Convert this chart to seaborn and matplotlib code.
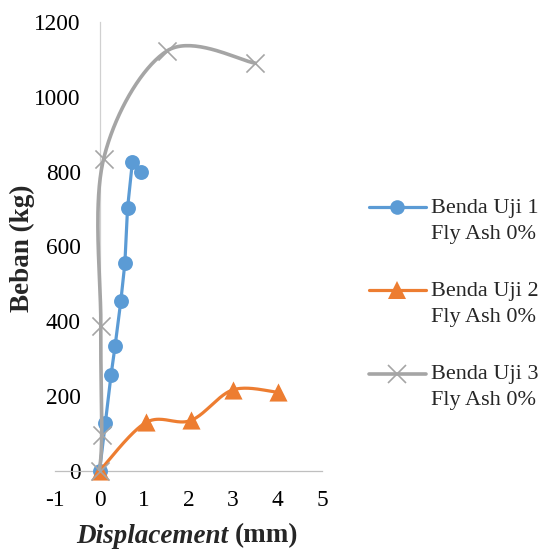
import numpy as np
import pandas as pd
import matplotlib
matplotlib.use("Agg")
import matplotlib.pyplot as plt
import matplotlib.transforms as mtransforms
from matplotlib.lines import Line2D
from matplotlib.legend_handler import HandlerLine2D
from matplotlib.offsetbox import TextArea, HPacker, AnchoredOffsetbox
import seaborn as sns

# ---- data ----
labels = ["Benda Uji 1\nFly Ash 0%", "Benda Uji 2\nFly Ash 0%", "Benda Uji 3\nFly Ash 0%"]
x1 = [0, 0.13, 0.26, 0.35, 0.48, 0.57, 0.63, 0.74, 0.93]
y1 = [0, 127, 257, 334, 455, 555, 702, 827, 800]
x2 = [0, 1.05, 2.05, 3.0, 4.02]
y2 = [0, 130, 135, 217, 210]
x3 = [0, 0.05, 0.03, 0.09, 1.52, 3.5]
y3 = [0, 97, 388, 833, 1123, 1090]
xticks = [-1, 0, 1, 2, 3, 4, 5]
yticks = [0, 200, 400, 600, 800, 1000, 1200]

colors = ["#5B9BD5", "#ED7D31", "#A5A5A5"]
FS = 16.8
FL = 16.0
FT = 19.5

sns.set_theme(style="white")
plt.rcParams["font.family"] = ["Liberation Serif", "DejaVu Serif"]
plt.rcParams["font.size"] = FS


def smooth(x, y, n=40):
    P = np.column_stack([x, y]).astype(float)
    Pp = np.vstack([P[0], P, P[-1]])
    out = []
    t = np.linspace(0, 1, n)[:, None]
    for i in range(len(P) - 1):
        p0, p1, p2, p3 = Pp[i], Pp[i + 1], Pp[i + 2], Pp[i + 3]
        c1 = p1 + (p2 - p0) / 6
        c2 = p2 - (p3 - p1) / 6
        seg = (1 - t) ** 3 * p1 + 3 * (1 - t) ** 2 * t * c1 + 3 * (1 - t) * t ** 2 * c2 + t ** 3 * p2
        out.append(seg if i == 0 else seg[1:])
    s = np.vstack(out)
    return s[:, 0], s[:, 1]


fig = plt.figure(figsize=(5.43, 5.51), dpi=100)
ax = fig.add_axes([55 / 543, 80 / 551, 267 / 543, 449 / 551])

# series 1: straight
df1 = pd.DataFrame({"x": x1, "y": y1})
sns.lineplot(data=df1, x="x", y="y", sort=False, estimator=None, color=colors[0],
             linewidth=2.3, ax=ax, zorder=3)
sns.scatterplot(data=df1, x="x", y="y", color=colors[0], marker="o", s=115,
                linewidth=0, ax=ax, zorder=4, clip_on=False)

# series 2: smoothed
sx, sy = smooth(x2, y2)
sns.lineplot(x=sx, y=sy, sort=False, estimator=None, color=colors[1], linewidth=2.3,
             ax=ax, zorder=5)
sns.scatterplot(x=x2, y=y2, color=colors[1], marker="^", s=170, linewidth=0, ax=ax,
                zorder=6, clip_on=False)

# series 3: smoothed
sx, sy = smooth(x3, y3)
sns.lineplot(x=sx, y=sy, sort=False, estimator=None, color=colors[2], linewidth=2.6,
             ax=ax, zorder=7)
sns.scatterplot(x=x3, y=y3, color=colors[2], marker="x", s=170, linewidth=1.2, ax=ax,
                zorder=8, clip_on=False)

ax.set_xlim(-1, 5)
ax.set_ylim(0, 1200)
ax.set_xticks(xticks)
ax.set_yticks(yticks)
ax.set_xticklabels([str(v) for v in xticks])
ax.set_yticklabels([str(v) for v in yticks])
ax.set_xlabel("")
ax.set_ylabel("")
for s in ["top", "right"]:
    ax.spines[s].set_visible(False)
ax.spines["left"].set_position(("data", 0))
ax.spines["left"].set_color("#D0D0D0")
ax.spines["left"].set_linewidth(0.9)
ax.spines["bottom"].set_color("#BFBFBF")
ax.spines["bottom"].set_linewidth(0.9)
ax.spines["left"].set_zorder(1)
ax.spines["bottom"].set_zorder(1)
ax.tick_params(axis="both", length=0, labelsize=FS, colors="black")
ax.tick_params(axis="x", pad=14)
ax.tick_params(axis="y", pad=13.5)

# y label
fig.text(22 / 543, 1 - 248 / 551, "Beban (kg)", rotation=90, ha="center", va="center",
         fontsize=FT, fontweight="bold")

# x label (mixed bold-italic + bold)
pk = HPacker(children=[
    TextArea("Displacement", textprops=dict(fontsize=FT, fontweight="bold", fontstyle="italic")),
    TextArea("(mm)", textprops=dict(fontsize=FT, fontweight="bold")),
], sep=5, align="baseline", pad=0)
ab = AnchoredOffsetbox(loc="center", child=pk, frameon=False, pad=0, borderpad=0,
                       bbox_to_anchor=(187 / 543, 1 - 536 / 551),
                       bbox_transform=fig.transFigure)
ax.add_artist(ab)


class TopHandler(HandlerLine2D):
    def create_artists(self, legend, orig_handle, xdescent, ydescent, width, height,
                       fontsize, trans):
        arts = super().create_artists(legend, orig_handle, xdescent, ydescent, width,
                                      height, fontsize, trans)
        shift = mtransforms.Affine2D().translate(0, 9.6)
        for a in arts:
            a.set_transform(shift + trans)
        return arts


handles = [
    Line2D([], [], color=colors[0], lw=2.3, marker="o", ms=10.5, mew=0),
    Line2D([], [], color=colors[1], lw=2.3, marker="^", ms=13, mew=0),
    Line2D([], [], color=colors[2], lw=2.6, marker="x", ms=13, mew=1.2),
]
leg = fig.legend(handles, labels, loc="upper left",
                 bbox_to_anchor=(369 / 543, 1 - 199 / 551), frameon=False,
                 handlelength=2.55, handletextpad=0.22, borderpad=0, borderaxespad=0,
                 labelspacing=1.74, fontsize=FL, numpoints=1,
                 handler_map={Line2D: TopHandler()})
for t in leg.get_texts():
    t.set_linespacing(1.47)

fig.savefig("out.png", dpi=100)
